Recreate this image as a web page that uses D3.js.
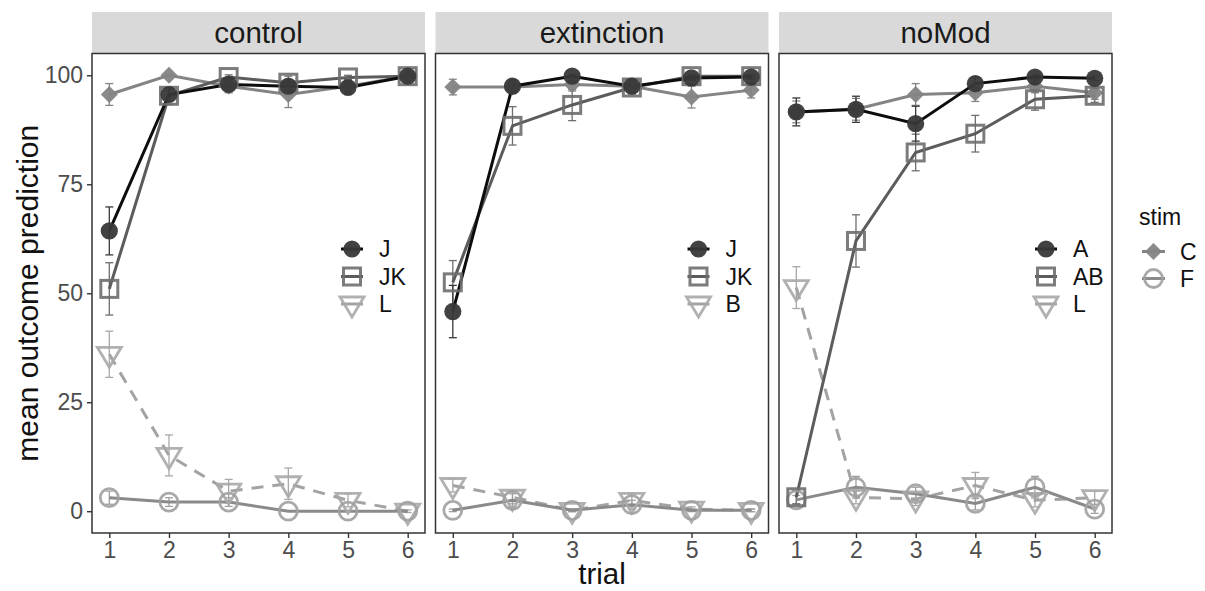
<!DOCTYPE html>
<html>
<head>
<meta charset="utf-8">
<script src="https://cdn.jsdelivr.net/npm/d3@7"></script>
<style>
  body { margin: 0; background: #fff; }
  text { font-family: "Liberation Sans", Arial, sans-serif; }
</style>
</head>
<body>
<div id="chart"></div>
<script>
// data
var trials = [1, 2, 3, 4, 5, 6];
var panelNames = ["control", "extinction", "noMod"];
var cueLabels = [["J", "JK", "L"], ["J", "JK", "B"], ["A", "AB", "L"]];
var stimLabels = ["C", "F"];
var yTicks = [0, 25, 50, 75, 100];

// control
var ctrlCue1 = [64.3, 95.6, 97.9, 97.5, 97.2, 99.8];
var ctrlCue1Err = [5.5, 1.5, 1.2, 1.5, 1.5, 0.3];
var ctrlCue2 = [51, 95.3, 99.6, 98.3, 99.5, 99.8];
var ctrlCue2Err = [6, 2, 0.5, 1.5, 0.5, 0.3];
var ctrlCue3 = [36, 12.8, 4.6, 6.3, 2.5, 0];
var ctrlCue3Err = [5.3, 4.7, 2.7, 3.6, 1.5, 0.3];
var ctrlC = [95.6, 100, 97.5, 95.6, 97.5, 99.8];
var ctrlCErr = [2.5, 0.3, 1.5, 3, 1.5, 0.3];
var ctrlF = [3.1, 2.1, 2.1, 0, 0, 0];
var ctrlFErr = [1.5, 1, 1, 0, 0, 0];

// extinction
var extCue1 = [45.8, 97.5, 99.8, 97.5, 99.4, 99.6];
var extCue1Err = [6, 1.5, 0.3, 1.5, 0.5, 0.5];
var extCue2 = [52.5, 88.4, 93.2, 97.2, 99.8, 99.8];
var extCue2Err = [5, 4.4, 3.6, 1.5, 0.3, 0.3];
var extCue3 = [5.9, 3.2, 0.2, 2.5, 0.5, 0.2];
var extCue3Err = [1.5, 1.5, 0.3, 1.5, 0.5, 0.3];
var extC = [97.3, 97.3, 97.9, 97.5, 95, 96.6];
var extCErr = [1.8, 1.5, 1.5, 1.5, 2.5, 1.8];
var extF = [0.2, 2.5, 0.2, 1.5, 0.2, 0.2];
var extFErr = [0.3, 1.5, 0.3, 1, 0.3, 0.3];

// noMod
var nmCue1 = [91.6, 92.2, 88.9, 98.1, 99.6, 99.3];
var nmCue1Err = [3.2, 3, 4, 1.5, 0.5, 0.5];
var nmCue2 = [3.2, 62, 82.3, 86.6, 94.5, 95.3];
var nmCue2Err = [1.5, 6, 4.2, 4.2, 2.5, 1.5];
var nmCue3 = [51.3, 3.2, 2.8, 5.9, 2.5, 3.1];
var nmCue3Err = [4.8, 1.5, 1.5, 3, 1.5, 1.5];
var nmC = [91.6, 92.2, 95.6, 96, 97.5, 96];
var nmCErr = [2.5, 2.5, 2.5, 2, 1.5, 1.5];
var nmF = [2.6, 5.5, 4, 1.8, 5.5, 0.5];
var nmFErr = [1, 2.5, 1.5, 1.5, 2.5, 1];

var panelData = [
  {cue: [ctrlCue1, ctrlCue2, ctrlCue3], cueErr: [ctrlCue1Err, ctrlCue2Err, ctrlCue3Err], C: ctrlC, CErr: ctrlCErr, F: ctrlF, FErr: ctrlFErr},
  {cue: [extCue1, extCue2, extCue3], cueErr: [extCue1Err, extCue2Err, extCue3Err], C: extC, CErr: extCErr, F: extF, FErr: extFErr},
  {cue: [nmCue1, nmCue2, nmCue3], cueErr: [nmCue1Err, nmCue2Err, nmCue3Err], C: nmC, CErr: nmCErr, F: nmF, FErr: nmFErr}
];

// styles per series kind
var styles = {
  cue1: {line: "#0d0d0d", mark: "#383838", shape: "circle", dash: null, width: 3},
  cue2: {line: "#5c5c5c", mark: "#6e6e6e", shape: "square", dash: null, width: 3},
  cue3: {line: "#a3a3a3", mark: "#a8a8a8", shape: "triangle", dash: "12,9", width: 3},
  C:    {line: "#848484", mark: "#848484", shape: "diamond", dash: null, width: 3},
  F:    {line: "#8a8a8a", mark: "#a0a0a0", shape: "ocircle", dash: null, width: 3}
};

var W = 1205, H = 591;
var panelW = 333, panelTop = 53.5, panelBottom = 533, stripTop = 12;
var panelX = [92, 435.5, 779];
var legendOffset = [260, 263, 267];
var fontTick = 23, fontLegend = 23, fontStrip = 29.5, fontAxisTitle = 30;

var svg = d3.select("#chart").append("svg")
  .attr("width", W).attr("height", H);

var y = d3.scaleLinear().domain([-5, 105]).range([panelBottom, panelTop]);

function drawMark(g, shape, cx, cy, st) {
  if (shape === "circle") {
    g.append("circle").attr("cx", cx).attr("cy", cy).attr("r", 8.6)
      .attr("fill", st.mark).attr("opacity", 0.95);
  } else if (shape === "square") {
    g.append("rect").attr("x", cx - 8.5).attr("y", cy - 8.5).attr("width", 17).attr("height", 17)
      .attr("fill", "none").attr("stroke", st.mark).attr("stroke-width", 3).attr("opacity", 0.9);
  } else if (shape === "triangle") {
    var s = 12;
    g.append("path")
      .attr("d", "M" + (cx - s) + "," + (cy - 7) + "L" + (cx + s) + "," + (cy - 7) + "L" + cx + "," + (cy + 13) + "Z")
      .attr("fill", "none").attr("stroke", st.mark).attr("stroke-width", 2.8).attr("opacity", 0.9);
  } else if (shape === "diamond") {
    var d = 8.5;
    g.append("path")
      .attr("d", "M" + cx + "," + (cy - d) + "L" + (cx + d) + "," + cy + "L" + cx + "," + (cy + d) + "L" + (cx - d) + "," + cy + "Z")
      .attr("fill", st.mark).attr("opacity", 0.95);
  } else if (shape === "ocircle") {
    g.append("circle").attr("cx", cx).attr("cy", cy).attr("r", 9)
      .attr("fill", "none").attr("stroke", st.mark).attr("stroke-width", 2.8).attr("opacity", 0.9);
  }
}

panelNames.forEach(function(name, p) {
  var x0 = panelX[p];
  var x = d3.scaleLinear().domain([0.71, 6.29]).range([x0, x0 + panelW]);
  var pd = panelData[p];

  // strip
  svg.append("rect").attr("x", x0).attr("y", stripTop)
    .attr("width", panelW).attr("height", panelTop - stripTop).attr("fill", "#d9d9d9");
  svg.append("text").attr("x", x0 + panelW / 2).attr("y", 43)
    .attr("text-anchor", "middle").attr("font-size", fontStrip).attr("fill", "#1a1a1a").text(name);

  var g = svg.append("g").attr("class", "panel");

  var series = [
    {key: "cue3", vals: pd.cue[2], err: pd.cueErr[2]},
    {key: "F", vals: pd.F, err: pd.FErr},
    {key: "C", vals: pd.C, err: pd.CErr},
    {key: "cue2", vals: pd.cue[1], err: pd.cueErr[1]},
    {key: "cue1", vals: pd.cue[0], err: pd.cueErr[0]}
  ];

  var line = d3.line()
    .x(function(d) { return x(d.t); })
    .y(function(d) { return y(d.v); });

  // error bars
  series.forEach(function(s) {
    var st = styles[s.key];
    trials.forEach(function(t, i) {
      if (s.err[i] <= 0) return;
      var lo = y(s.vals[i] - s.err[i]), hi = y(s.vals[i] + s.err[i]);
      g.append("line").attr("x1", x(t)).attr("x2", x(t)).attr("y1", lo).attr("y2", hi)
        .attr("stroke", st.mark).attr("stroke-width", 1.3);
      [lo, hi].forEach(function(yy) {
        g.append("line").attr("x1", x(t) - 4).attr("x2", x(t) + 4).attr("y1", yy).attr("y2", yy)
          .attr("stroke", st.mark).attr("stroke-width", 1.3);
      });
    });
  });

  // lines
  series.forEach(function(s) {
    var st = styles[s.key];
    var pts = trials.map(function(t, i) { return {t: t, v: s.vals[i]}; });
    g.append("path").datum(pts).attr("d", line)
      .attr("fill", "none").attr("stroke", st.line).attr("stroke-width", st.width)
      .attr("stroke-dasharray", st.dash);
  });

  // points
  series.forEach(function(s) {
    var st = styles[s.key];
    trials.forEach(function(t, i) {
      drawMark(g, st.shape, x(t), y(s.vals[i]), st);
    });
  });

  // panel border
  svg.append("rect").attr("x", x0).attr("y", panelTop)
    .attr("width", panelW).attr("height", panelBottom - panelTop)
    .attr("fill", "none").attr("stroke", "#333").attr("stroke-width", 1.5);

  // x axis
  var xAxis = svg.append("g").attr("transform", "translate(0," + panelBottom + ")")
    .call(d3.axisBottom(x).tickValues(trials).tickFormat(d3.format("d")).tickSize(5).tickPadding(4));
  xAxis.select(".domain").remove();
  xAxis.selectAll(".tick line").attr("stroke", "#333").attr("stroke-width", 1.4);
  xAxis.selectAll(".tick text").attr("font-size", fontTick).attr("fill", "#4d4d4d")
    .attr("font-family", "Liberation Sans, Arial, sans-serif");

  if (p === 0) {
    var yAxis = svg.append("g").attr("transform", "translate(" + x0 + ",0)")
      .call(d3.axisLeft(y).tickValues(yTicks).tickSize(5).tickPadding(4));
    yAxis.select(".domain").remove();
    yAxis.selectAll(".tick line").attr("stroke", "#333").attr("stroke-width", 1.4);
    yAxis.selectAll(".tick text").attr("font-size", fontTick).attr("fill", "#4d4d4d")
      .attr("font-family", "Liberation Sans, Arial, sans-serif");
  }

  // in-panel legend
  var lx = x0 + legendOffset[p];
  var ly0 = 249;
  ["cue1", "cue2", "cue3"].forEach(function(k, i) {
    var st = styles[k];
    var ly = ly0 + i * 27.5;
    svg.append("line").attr("x1", lx - 11).attr("x2", lx + 11).attr("y1", ly).attr("y2", ly)
      .attr("stroke", st.line).attr("stroke-width", st.width);
    drawMark(svg, st.shape, lx, ly, st);
    svg.append("text").attr("x", lx + 27).attr("y", ly + 8)
      .attr("font-size", fontLegend).attr("fill", "#111").text(cueLabels[p][i]);
  });
});

// right legend (stim)
svg.append("text").attr("x", 1139).attr("y", 225).attr("font-size", fontLegend).attr("fill", "#111").text("stim");
["C", "F"].forEach(function(k, i) {
  var st = styles[k];
  var ly = 251.5 + i * 27;
  svg.append("line").attr("x1", 1142).attr("x2", 1165).attr("y1", ly).attr("y2", ly)
    .attr("stroke", st.line).attr("stroke-width", st.width);
  drawMark(svg, st.shape, 1153.5, ly, st);
  svg.append("text").attr("x", 1180).attr("y", ly + 8).attr("font-size", fontLegend).attr("fill", "#111").text(stimLabels[i]);
});

// axis titles
svg.append("text")
  .attr("transform", "translate(38," + ((panelTop + panelBottom) / 2) + ") rotate(-90)")
  .attr("text-anchor", "middle").attr("font-size", fontAxisTitle).attr("fill", "#111")
  .text("mean outcome prediction");
svg.append("text").attr("x", (panelX[0] + panelX[2] + panelW) / 2).attr("y", 584)
  .attr("text-anchor", "middle").attr("font-size", fontStrip).attr("fill", "#111").text("trial");
</script>
</body>
</html>
